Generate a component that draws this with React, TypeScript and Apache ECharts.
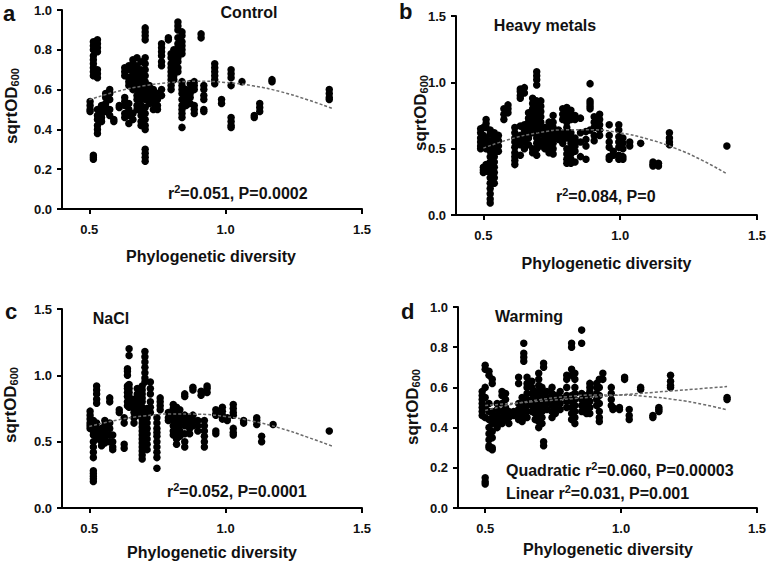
import React, { useEffect, useRef } from "react";
import * as echarts from "echarts";

const FONT = "Liberation Sans, Arial, sans-serif";

const xTicks = [0.5, 1.0, 1.5];

// Control: [x, y values]
const controlCols: [number, number[]][] = [
  [0.503, [0.54, 0.52, 0.5, 0.49]],
  [0.515, [0.84, 0.82, 0.8, 0.77, 0.75, 0.73, 0.71, 0.69, 0.67, 0.27, 0.26, 0.25]],
  [0.53, [0.85, 0.83, 0.81, 0.79, 0.7, 0.68, 0.66, 0.5, 0.47, 0.45, 0.42, 0.4, 0.38]],
  [0.545, [0.52, 0.5, 0.48, 0.46, 0.44]],
  [0.56, [0.58, 0.56, 0.53, 0.51, 0.49]],
  [0.575, [0.6, 0.58, 0.55, 0.5, 0.47]],
  [0.59, [0.45, 0.44]],
  [0.61, [0.52, 0.51]],
  [0.63, [0.71, 0.69, 0.67, 0.56, 0.54, 0.52, 0.48, 0.46]],
  [0.645, [0.72, 0.7, 0.66, 0.64, 0.62, 0.53, 0.5, 0.47, 0.43]],
  [0.66, [0.75, 0.73, 0.7, 0.68, 0.66, 0.64, 0.62, 0.6, 0.48, 0.45]],
  [0.675, [0.76, 0.72, 0.69, 0.67, 0.65, 0.62, 0.6, 0.57, 0.55, 0.52, 0.5]],
  [0.69, [0.74, 0.7, 0.67, 0.64, 0.62, 0.59, 0.57, 0.55, 0.52, 0.49, 0.47, 0.44, 0.42]],
  [0.705, [0.91, 0.89, 0.87, 0.85, 0.76, 0.73, 0.7, 0.67, 0.64, 0.61, 0.58, 0.55, 0.51, 0.48, 0.45, 0.42, 0.4, 0.3, 0.28, 0.26, 0.24]],
  [0.72, [0.62, 0.6, 0.57, 0.55, 0.53]],
  [0.735, [0.6, 0.58, 0.56, 0.53, 0.5]],
  [0.75, [0.58, 0.55, 0.52, 0.5]],
  [0.765, [0.83, 0.81, 0.79, 0.77, 0.74, 0.72, 0.6, 0.57]],
  [0.79, [0.86, 0.85]],
  [0.8, [0.78, 0.76, 0.73, 0.71, 0.69, 0.67, 0.65, 0.62, 0.6]],
  [0.81, [0.8, 0.77, 0.75, 0.73, 0.71, 0.69, 0.67, 0.65]],
  [0.825, [0.94, 0.92, 0.9, 0.86, 0.83, 0.81, 0.79, 0.76, 0.74, 0.71, 0.69]],
  [0.84, [0.89, 0.87, 0.84, 0.82, 0.8, 0.78, 0.64, 0.62, 0.6, 0.58, 0.55, 0.52, 0.5, 0.48, 0.46, 0.41]],
  [0.855, [0.6, 0.58, 0.56, 0.54, 0.52]],
  [0.87, [0.63, 0.6, 0.58, 0.56, 0.53]],
  [0.885, [0.64, 0.62, 0.6, 0.52, 0.5, 0.48]],
  [0.91, [0.88, 0.86]],
  [0.92, [0.62, 0.6, 0.57, 0.55, 0.5, 0.49]],
  [0.96, [0.73, 0.71, 0.69, 0.67, 0.65, 0.63]],
  [0.985, [0.55, 0.53]],
  [1.02, [0.7, 0.68, 0.66, 0.62, 0.46, 0.44, 0.42, 0.41]],
  [1.06, [0.64]],
  [1.105, [0.47, 0.46]],
  [1.125, [0.53, 0.51, 0.49]],
  [1.17, [0.65, 0.64]],
  [1.38, [0.6, 0.58, 0.56, 0.55]],
];

const metalsCols: [number, number[]][] = [
  [0.49, [0.65, 0.62, 0.58, 0.55, 0.52, 0.5]],
  [0.5, [0.66, 0.6, 0.52, 0.36, 0.34, 0.32]],
  [0.51, [0.72, 0.69, 0.66, 0.58, 0.54, 0.5, 0.38, 0.35, 0.33]],
  [0.525, [0.64, 0.61, 0.56, 0.52, 0.48, 0.44, 0.4, 0.36, 0.32, 0.28, 0.24, 0.2, 0.16, 0.12, 0.09]],
  [0.54, [0.62, 0.58, 0.54, 0.5, 0.47, 0.44, 0.4, 0.36, 0.32, 0.28, 0.24]],
  [0.555, [0.6, 0.56, 0.52, 0.48]],
  [0.575, [0.8, 0.76, 0.72]],
  [0.59, [0.83, 0.8, 0.77]],
  [0.615, [0.66, 0.62, 0.58, 0.55, 0.51, 0.47, 0.44, 0.41, 0.38]],
  [0.635, [0.95, 0.93, 0.9, 0.88, 0.67, 0.6, 0.57, 0.53, 0.45]],
  [0.65, [0.96, 0.92, 0.68, 0.64, 0.6, 0.55, 0.5]],
  [0.665, [0.77, 0.73, 0.7, 0.66, 0.62, 0.58, 0.53]],
  [0.68, [0.88, 0.84, 0.8, 0.77, 0.73, 0.7, 0.66, 0.62, 0.5, 0.47]],
  [0.695, [1.08, 1.05, 1.02, 0.98, 0.86, 0.82, 0.78, 0.74, 0.7, 0.66, 0.62, 0.58, 0.54, 0.5, 0.45]],
  [0.71, [0.86, 0.82, 0.78, 0.74, 0.7, 0.66, 0.61, 0.56, 0.52]],
  [0.725, [0.66, 0.62, 0.58, 0.54, 0.5]],
  [0.74, [0.7, 0.66, 0.62, 0.58, 0.54, 0.5, 0.47]],
  [0.755, [0.75, 0.7, 0.66, 0.62, 0.58, 0.54, 0.5, 0.46]],
  [0.775, [0.64, 0.6, 0.57]],
  [0.79, [0.8, 0.76, 0.72, 0.62, 0.58, 0.54]],
  [0.805, [0.81, 0.78, 0.75, 0.7, 0.66, 0.62, 0.58, 0.5, 0.46, 0.42, 0.39]],
  [0.82, [0.79, 0.76, 0.72, 0.62, 0.58, 0.54, 0.5, 0.46, 0.42, 0.39]],
  [0.835, [0.75, 0.72, 0.58, 0.55, 0.52, 0.48, 0.4]],
  [0.855, [0.73, 0.62, 0.55, 0.44]],
  [0.875, [0.63, 0.57, 0.52, 0.42]],
  [0.89, [0.99, 0.86, 0.84, 0.82, 0.8, 0.64]],
  [0.905, [0.74, 0.7, 0.66, 0.6, 0.56]],
  [0.925, [0.76, 0.72, 0.68, 0.64, 0.6]],
  [0.96, [0.68, 0.6, 0.55, 0.51, 0.44, 0.42]],
  [0.975, [0.48, 0.45]],
  [0.995, [0.68, 0.64, 0.59, 0.55, 0.51, 0.45, 0.42]],
  [1.01, [0.58, 0.54, 0.5, 0.44, 0.42]],
  [1.035, [0.55, 0.52]],
  [1.075, [0.54]],
  [1.12, [0.4, 0.38, 0.37]],
  [1.14, [0.39, 0.37]],
  [1.18, [0.62, 0.58, 0.55, 0.53]],
  [1.39, [0.52]],
];

const naclCols: [number, number[]][] = [
  [0.503, [0.73, 0.7, 0.67, 0.64, 0.62, 0.6]],
  [0.515, [0.66, 0.62, 0.58, 0.55, 0.5, 0.46, 0.42, 0.38, 0.28, 0.26, 0.24, 0.22, 0.2]],
  [0.527, [0.92, 0.89, 0.86, 0.82, 0.79, 0.64, 0.6, 0.56, 0.52]],
  [0.545, [0.6, 0.57, 0.54, 0.5, 0.47]],
  [0.557, [0.66, 0.62, 0.58, 0.55, 0.52, 0.49]],
  [0.575, [0.83, 0.8, 0.64, 0.6, 0.55, 0.5]],
  [0.586, [0.55, 0.5, 0.46, 0.44]],
  [0.61, [0.74, 0.72]],
  [0.628, [0.68, 0.64, 0.48, 0.45]],
  [0.64, [1.05, 1.03, 1.0, 0.92, 0.9, 0.87, 0.84, 0.8, 0.77]],
  [0.646, [1.2, 1.15, 0.93, 0.9, 0.87, 0.84, 0.8, 0.76]],
  [0.664, [0.82, 0.78, 0.75, 0.72, 0.68, 0.64]],
  [0.676, [0.9, 0.86, 0.82, 0.79, 0.76, 0.72, 0.7]],
  [0.694, [0.92, 0.89, 0.86, 0.83, 0.8, 0.76, 0.73, 0.7, 0.67, 0.64, 0.61, 0.58, 0.55, 0.52, 0.49, 0.46, 0.43, 0.4, 0.37]],
  [0.704, [1.18, 1.14, 1.1, 1.06, 1.02, 0.98, 0.95]],
  [0.712, [0.75, 0.72, 0.68, 0.64, 0.6, 0.56, 0.52, 0.48, 0.44]],
  [0.724, [0.95, 0.9, 0.86, 0.8, 0.76, 0.72]],
  [0.748, [0.68, 0.64, 0.6, 0.57, 0.54, 0.5, 0.46, 0.42, 0.38, 0.3]],
  [0.76, [0.83, 0.8, 0.77, 0.74]],
  [0.79, [0.72, 0.68, 0.66]],
  [0.808, [0.78, 0.75, 0.72, 0.69, 0.66, 0.62, 0.58, 0.55]],
  [0.82, [0.76, 0.72, 0.68, 0.64, 0.6, 0.56, 0.52, 0.48]],
  [0.832, [0.74, 0.7, 0.66, 0.62, 0.58, 0.54]],
  [0.85, [0.86, 0.84, 0.7, 0.66, 0.62, 0.56, 0.5, 0.46]],
  [0.868, [0.68, 0.64, 0.6, 0.56]],
  [0.88, [0.91, 0.89, 0.7, 0.66, 0.62]],
  [0.898, [0.66, 0.62, 0.58]],
  [0.91, [0.88, 0.85]],
  [0.922, [0.66, 0.62, 0.58, 0.54, 0.5, 0.46]],
  [0.932, [0.92, 0.9, 0.87]],
  [0.964, [0.74, 0.71, 0.7, 0.58, 0.56]],
  [0.988, [0.76, 0.73, 0.7, 0.67]],
  [1.006, [0.68, 0.66]],
  [1.028, [0.78, 0.75, 0.72, 0.7, 0.6, 0.57, 0.55]],
  [1.066, [0.66, 0.64]],
  [1.114, [0.68, 0.66, 0.63]],
  [1.132, [0.54, 0.5]],
  [1.174, [0.63]],
  [1.38, [0.58]],
];

const warmingCols: [number, number[]][] = [
  [0.489, [0.58, 0.56, 0.54, 0.52, 0.5, 0.48, 0.46]],
  [0.5, [0.71, 0.69, 0.6, 0.55, 0.5, 0.45, 0.15, 0.13, 0.12]],
  [0.514, [0.68, 0.66, 0.52, 0.48, 0.44, 0.4, 0.37, 0.34, 0.31, 0.3]],
  [0.526, [0.64, 0.62, 0.48, 0.45, 0.42, 0.38, 0.35, 0.3, 0.29]],
  [0.544, [0.52, 0.49, 0.46, 0.44, 0.42, 0.4]],
  [0.562, [0.58, 0.56, 0.52, 0.48, 0.45, 0.42]],
  [0.575, [0.57, 0.54, 0.5, 0.47, 0.44]],
  [0.587, [0.48, 0.45, 0.42]],
  [0.605, [0.48, 0.46]],
  [0.623, [0.65, 0.62, 0.52, 0.49, 0.46, 0.44]],
  [0.636, [0.55, 0.52, 0.49, 0.46, 0.43]],
  [0.642, [0.82, 0.77, 0.75, 0.73]],
  [0.654, [0.65, 0.62, 0.6, 0.57, 0.54, 0.51, 0.48, 0.45]],
  [0.672, [0.63, 0.6, 0.57, 0.54, 0.51, 0.48]],
  [0.684, [0.58, 0.55, 0.52, 0.5, 0.47, 0.44]],
  [0.697, [0.67, 0.64, 0.61, 0.58, 0.55, 0.52, 0.49, 0.46, 0.43, 0.4]],
  [0.709, [0.6, 0.57, 0.54, 0.51, 0.48, 0.45, 0.42]],
  [0.715, [0.72, 0.7, 0.33, 0.31]],
  [0.727, [0.58, 0.55, 0.52, 0.49]],
  [0.746, [0.6, 0.57, 0.54, 0.51, 0.48, 0.45]],
  [0.758, [0.56, 0.53, 0.5, 0.47]],
  [0.776, [0.58, 0.55, 0.52, 0.49]],
  [0.8, [0.66, 0.64, 0.6, 0.56, 0.53, 0.5]],
  [0.818, [0.82, 0.8, 0.69, 0.66, 0.56, 0.53, 0.5, 0.47, 0.44]],
  [0.83, [0.67, 0.64, 0.6, 0.57, 0.54, 0.51, 0.48, 0.45, 0.42]],
  [0.855, [0.885, 0.82, 0.57, 0.54, 0.51, 0.48]],
  [0.873, [0.56, 0.53, 0.5, 0.47]],
  [0.885, [0.62, 0.6, 0.58, 0.56, 0.53, 0.5, 0.47]],
  [0.91, [0.62, 0.6, 0.57, 0.54, 0.51]],
  [0.92, [0.64, 0.6, 0.56, 0.52, 0.48, 0.45, 0.43]],
  [0.933, [0.67, 0.64]],
  [0.964, [0.6, 0.57, 0.54, 0.51]],
  [0.97, [0.5, 0.49]],
  [0.994, [0.5, 0.49]],
  [1.013, [0.65, 0.64]],
  [1.03, [0.49, 0.46, 0.44]],
  [1.072, [0.6, 0.59]],
  [1.117, [0.46, 0.45]],
  [1.139, [0.5, 0.49, 0.48]],
  [1.182, [0.66, 0.63, 0.61, 0.6]],
  [1.39, [0.55, 0.54]],
];

// fitted curves
const fitX = [0.5, 0.6, 0.7, 0.8, 0.9, 1.0, 1.1, 1.2, 1.3, 1.39];
const controlFitY = [0.549, 0.59, 0.619, 0.636, 0.642, 0.636, 0.619, 0.59, 0.549, 0.506];
const metalsFitY = [0.504, 0.573, 0.619, 0.642, 0.642, 0.619, 0.573, 0.504, 0.412, 0.31];
const naclFitY = [0.615, 0.662, 0.694, 0.709, 0.707, 0.689, 0.654, 0.602, 0.534, 0.467];
const warmingQuadY = [0.485, 0.516, 0.539, 0.554, 0.562, 0.562, 0.554, 0.539, 0.516, 0.488];
const warmingLinX = [0.5, 1.39];
const warmingLinY = [0.51, 0.604];

const yMax = [1.0, 1.5, 1.5, 1.0];
const yInterval = [0.2, 0.5, 0.5, 0.2];

const grids = [
  { left: 62, top: 10, width: 300, height: 199 },
  { left: 456, top: 16, width: 301, height: 199 },
  { left: 62, top: 309, width: 300, height: 199 },
  { left: 458, top: 307, width: 301, height: 201 },
];

const flatten = (cols: [number, number[]][]) =>
  cols.flatMap(([x, ys]) => ys.map((y) => [x, y]));
const zip = (xs: number[], ys: number[]) => xs.map((x, i) => [x, ys[i]]);

const txt = (x: number, y: number, text: string, size: number, align = "left", rich?: any) => ({
  type: "text",
  x,
  y,
  style: {
    text,
    x: 0,
    y: 0,
    fill: "#111",
    fontFamily: FONT,
    fontWeight: "bold",
    fontSize: size,
    align,
    verticalAlign: "middle",
    textAlign: align,
    textVerticalAlign: "middle",
    rich,
  },
});

const statRich = {
  m: { fontFamily: FONT, fontWeight: "bold", fontSize: 16, fill: "#111", lineHeight: 20, verticalAlign: "middle" },
  s: { fontFamily: FONT, fontWeight: "bold", fontSize: 11, fill: "#111", lineHeight: 12, verticalAlign: "top" },
};
const yNameRich = {
  m: { fontFamily: FONT, fontWeight: "bold", fontSize: 17, fill: "#111", lineHeight: 20, verticalAlign: "bottom" },
  s: { fontFamily: FONT, fontWeight: "bold", fontSize: 11, fill: "#111", lineHeight: 8, verticalAlign: "bottom" },
};

const yName = (x: number, y: number) => ({
  ...txt(x, y, "{m|sqrtOD}{s|600}", 17, "center", yNameRich),
  rotation: Math.PI / 2,
});

export default function App() {
  const ref = useRef<HTMLDivElement>(null);
  useEffect(() => {
    if (!ref.current) return;
    const chart = echarts.init(ref.current, null, { renderer: "svg" });
    const axisColor = "#000";
    const scatterData = [controlCols, metalsCols, naclCols, warmingCols].map(flatten);
    const fits = [
      [zip(fitX, controlFitY)],
      [zip(fitX, metalsFitY)],
      [zip(fitX, naclFitY)],
      [zip(fitX, warmingQuadY), zip(warmingLinX, warmingLinY)],
    ];
    const series: any[] = [];
    scatterData.forEach((d, i) => {
      series.push({
        type: "scatter",
        xAxisIndex: i,
        yAxisIndex: i,
        data: d,
        symbol: "circle",
        symbolSize: 7.5,
        itemStyle: { color: "#000", opacity: 1 },
        emphasis: { disabled: true },
        z: 2,
      });
      fits[i].forEach((f) => {
        series.push({
          type: "line",
          xAxisIndex: i,
          yAxisIndex: i,
          data: f,
          smooth: true,
          symbol: "none",
          lineStyle: { color: "#6a6a6a", width: 1.5, type: [3, 2] },
          z: 3,
        });
      });
    });
    const option: any = {
      animation: false,
      backgroundColor: "#fff",
      grid: grids,
      xAxis: grids.map((_, i) => ({
        type: "value",
        gridIndex: i,
        min: 0.4,
        max: 1.5,
        axisLine: { show: true, onZero: false, lineStyle: { color: axisColor, width: 2 } },
        axisTick: { show: true, customValues: xTicks, length: 5, lineStyle: { color: axisColor, width: 2 } },
        axisLabel: {
          customValues: xTicks,
          formatter: (v: number) => v.toFixed(1),
          margin: 14,
          fontSize: 13,
          fontWeight: "bold",
          color: "#111",
          fontFamily: FONT,
        },
        splitLine: { show: false },
      })),
      yAxis: grids.map((_, i) => ({
        type: "value",
        gridIndex: i,
        min: 0,
        max: yMax[i],
        interval: yInterval[i],
        axisLine: { show: true, onZero: false, lineStyle: { color: axisColor, width: 2 } },
        axisTick: { show: true, length: 5, lineStyle: { color: axisColor, width: 2 } },
        axisLabel: {
          formatter: (v: number) => v.toFixed(1),
          margin: 10,
          fontSize: 13,
          fontWeight: "bold",
          color: "#111",
          fontFamily: FONT,
        },
        splitLine: { show: false },
      })),
      series,
      graphic: [
        txt(3, 13, "a", 22),
        txt(399, 11, "b", 22),
        txt(5, 311, "c", 22),
        txt(401, 311, "d", 22),
        txt(249, 12, "Control", 16, "center"),
        txt(545, 25, "Heavy metals", 16, "center"),
        txt(111, 318, "NaCl", 16, "center"),
        txt(529, 316.5, "Warming", 16, "center"),
        txt(168, 193, "{m|r}{s|2}{m|=0.051, P=0.0002}", 16, "left", statRich),
        txt(556, 196.5, "{m|r}{s|2}{m|=0.084, P=0}", 16, "left", statRich),
        txt(167, 491.5, "{m|r}{s|2}{m|=0.052, P=0.0001}", 16, "left", statRich),
        txt(506, 470, "{m|Quadratic r}{s|2}{m|=0.060, P=0.00003}", 16, "left", statRich),
        txt(506, 493, "{m|Linear r}{s|2}{m|=0.031, P=0.001}", 16, "left", statRich),
        txt(211, 256.5, "Phylogenetic diversity", 16, "center"),
        txt(606.5, 263, "Phylogenetic diversity", 16, "center"),
        txt(212, 552, "Phylogenetic diversity", 16, "center"),
        txt(608, 549, "Phylogenetic diversity", 16, "center"),
        yName(10, 106),
        yName(419, 113),
        yName(9, 405),
        yName(411, 407),
      ],
    };
    chart.setOption(option);
    return () => chart.dispose();
  }, []);
  return (
    <div
      ref={ref}
      style={{ position: "absolute", left: 0, top: 0, width: 769, height: 562, background: "#fff" }}
    />
  );
}
